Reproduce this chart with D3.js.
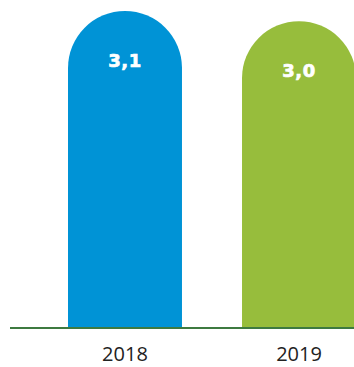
<!DOCTYPE html>
<html>
<head>
<meta charset="utf-8">
<script src="https://cdn.jsdelivr.net/npm/d3@7"></script>
<style>
  html, body { margin: 0; padding: 0; background: #fff; }
  svg { display: block; }
</style>
</head>
<body>
<svg id="chart" width="354" height="367"></svg>
<script>
// Chart data
const years = ["2018", "2019"];
const values = [3.1, 3.0];
const valueLabels = ["3,1", "3,0"];
const barColors = ["#0093d6", "#97bd3c"];

const svg = d3.select("#chart");
const baseY = 327;

const x = d3.scaleBand()
  .domain(years)
  .range([68, 356])
  .paddingInner(0.345)
  .paddingOuter(0);

const y = d3.scaleLinear()
  .domain([0, 3.1])
  .range([baseY, 11]);

// Bars with a semicircular top
function pillPath(d, i) {
  const x0 = x(years[i]);
  const w = x.bandwidth();
  const r = w / 2;
  const top = y(d);
  return `M${x0},${baseY} L${x0},${top + r} A${r},${r} 0 0 1 ${x0 + w},${top + r} L${x0 + w},${baseY} Z`;
}

svg.selectAll("path.bar")
  .data(values)
  .join("path")
  .attr("class", "bar")
  .attr("d", pillPath)
  .attr("fill", (d, i) => barColors[i]);

// Value labels inside the rounded tops
svg.selectAll("text.value")
  .data(values)
  .join("text")
  .attr("class", "value")
  .attr("x", (d, i) => x(years[i]) + x.bandwidth() / 2)
  .attr("y", d => y(d) + 56)
  .attr("text-anchor", "middle")
  .attr("fill", "#fff")
  .attr("stroke", "#fff")
  .attr("stroke-width", 0.7)
  .attr("font-family", "DejaVu Sans, sans-serif")
  .attr("font-weight", "bold")
  .attr("font-size", "18px")
  .attr("letter-spacing", "0.5px")
  .text((d, i) => valueLabels[i]);

// Baseline
svg.append("line")
  .attr("x1", 10)
  .attr("x2", 354)
  .attr("y1", baseY + 1)
  .attr("y2", baseY + 1)
  .attr("stroke", "#3d7a40")
  .attr("stroke-width", 2);

// Category axis labels
const xAxis = d3.axisBottom(x).tickSize(0).tickPadding(0);
const axisG = svg.append("g")
  .attr("transform", `translate(0,${baseY})`)
  .call(xAxis);
axisG.select(".domain").remove();
axisG.selectAll("text")
  .attr("y", 34)
  .attr("dy", null)
  .attr("fill", "#222")
  .attr("font-family", "Open Sans, sans-serif")
  .attr("font-size", "20px");
</script>
</body>
</html>
